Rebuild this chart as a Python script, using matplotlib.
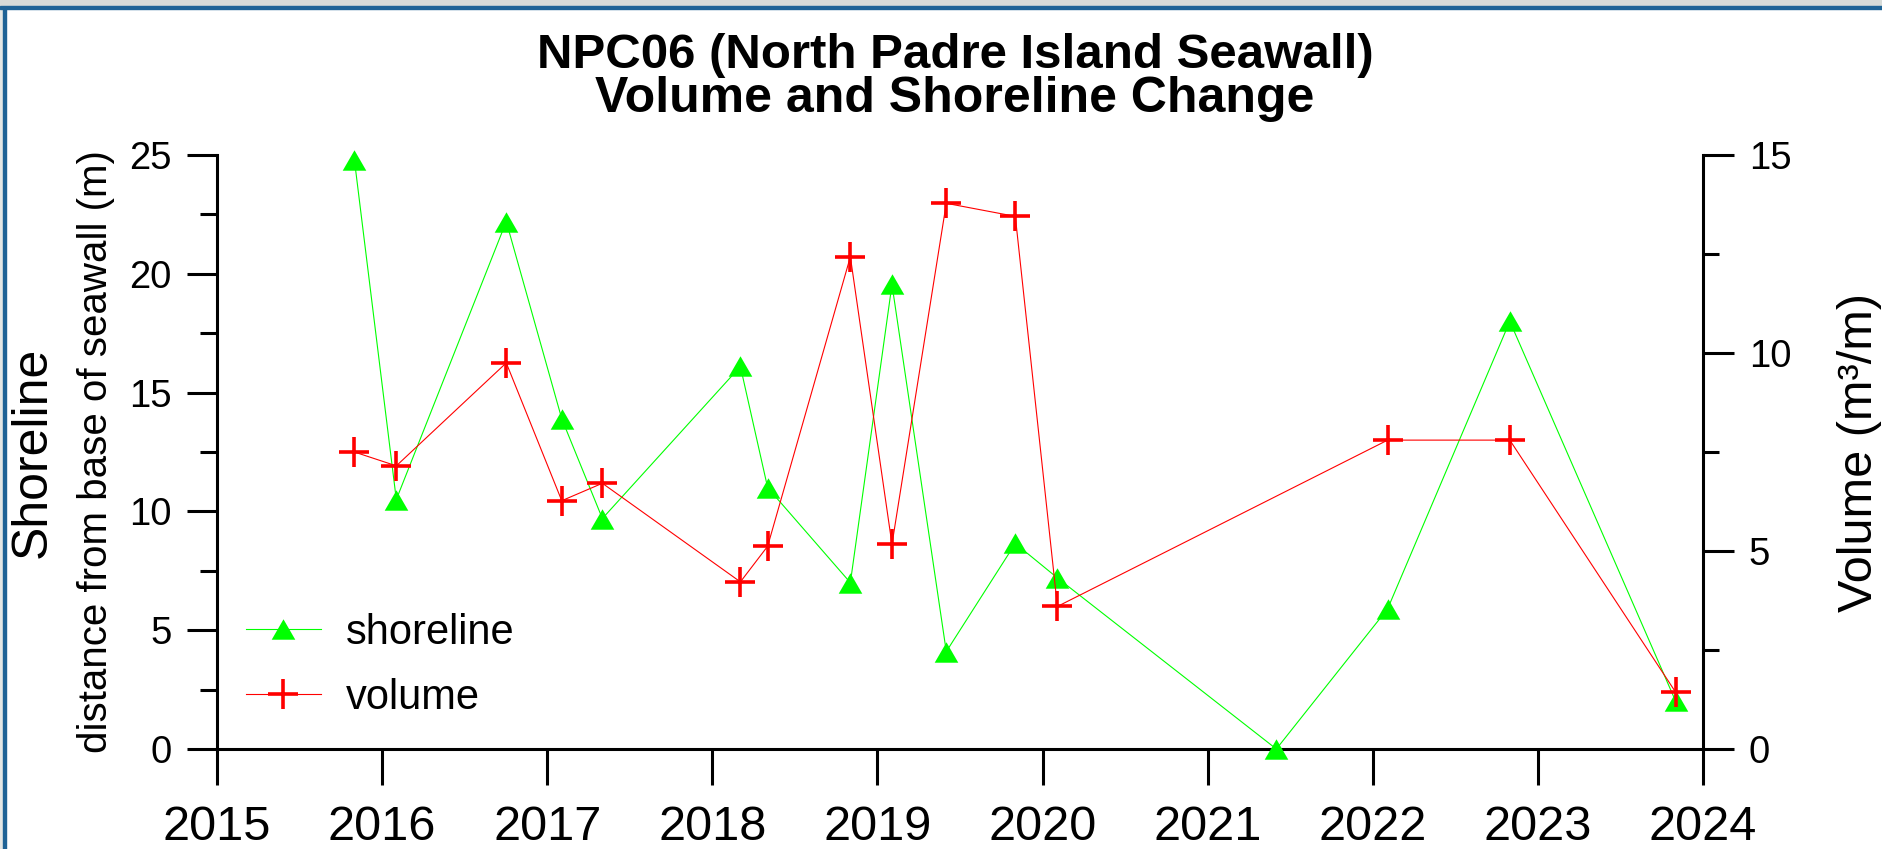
import matplotlib
matplotlib.use("Agg")
import matplotlib.pyplot as plt
from matplotlib.patches import Rectangle
from matplotlib.ticker import MultipleLocator, FixedLocator
from matplotlib.path import Path

plt.rcParams['font.family'] = ['Liberation Sans', 'DejaVu Sans']

# ---- data (decimal years) ----
shore_dates = [2015.832, 2016.086, 2016.752, 2017.088, 2017.334, 2018.170, 2018.335, 2018.836,
               2019.088, 2019.417, 2019.835, 2020.090, 2021.416, 2022.090, 2022.830, 2023.835]
shoreline = [24.8, 10.5, 22.2, 13.9, 9.7, 16.1, 11.0, 7.0,
             19.55, 4.1, 8.65, 7.2, 0.0, 5.9, 18.0, 2.0]
vol_dates = [2015.832, 2016.086, 2016.752, 2017.088, 2017.334, 2018.170, 2018.335, 2018.836,
             2019.088, 2019.417, 2019.835, 2020.090, 2022.090, 2022.830, 2023.835]
volume = [7.5, 7.15, 9.75, 6.27, 6.71, 4.22, 5.12, 12.43,
          5.17, 13.78, 13.45, 3.6, 7.8, 7.8, 1.43]
year_ticks = [2015, 2016, 2017, 2018, 2019, 2020, 2021, 2022, 2023, 2024]
year_labels = [str(y) for y in year_ticks]

W, H = 1883, 849
fig = plt.figure(figsize=(W / 100, H / 100), dpi=100)
fig.patch.set_facecolor('white')

# window-like frame
fig.patches.append(Rectangle((0, 1 - 6 / H), 1, 6 / H, transform=fig.transFigure,
                             color='#d7dbd8', zorder=0))
fig.patches.append(Rectangle((0, 1 - 8.5 / H), 1, 2.5 / H, transform=fig.transFigure,
                             color='#1f6396', zorder=1))
fig.patches.append(Rectangle((0, 0), 3.3 / W, 1 - 6 / H, transform=fig.transFigure,
                             color='#e4e7e5', zorder=0))
fig.patches.append(Rectangle((3.3 / W, 0), 2.7 / W, 1 - 6.5 / H, transform=fig.transFigure,
                             color='#1f6396', zorder=1))

left, right, top, bottom = 217, 1703, 155, 749
ax = fig.add_axes([left / W, 1 - bottom / H, (right - left) / W, (bottom - top) / H])
ax2 = ax.twinx()

tri = Path([(0, 0.866), (-1, -0.866), (1, -0.866), (0, 0.866)],
           [Path.MOVETO, Path.LINETO, Path.LINETO, Path.CLOSEPOLY])

l1, = ax.plot(shore_dates, shoreline, color='#00ff00', lw=0.8, marker=tri, ms=17,
              mfc='#00ff00', mec='none', clip_on=False, zorder=5, label='shoreline')
l2, = ax2.plot(vol_dates, volume, color='#ff0000', lw=0.8, marker='+', ms=22, mew=2.6,
               clip_on=False, zorder=5, label='volume')

ax.set_xlim(2015, 2024)
ax.set_ylim(0, 25)
ax2.set_ylim(0, 15)

spine_w = 2.2
for a in (ax, ax2):
    a.spines['top'].set_visible(False)
    for s in ('left', 'right', 'bottom'):
        a.spines[s].set_linewidth(spine_w)
    a.set_facecolor('none')
ax2.spines['left'].set_visible(False)
ax2.spines['bottom'].set_visible(False)
ax.spines['right'].set_visible(False)

ax.xaxis.set_major_locator(FixedLocator(year_ticks))
ax.set_xticklabels(year_labels)
ax.yaxis.set_major_locator(MultipleLocator(5))
ax.yaxis.set_minor_locator(MultipleLocator(2.5))
ax2.yaxis.set_major_locator(MultipleLocator(5))
ax2.yaxis.set_minor_locator(MultipleLocator(2.5))

ax.tick_params(axis='x', which='major', direction='out', length=26, width=spine_w,
               labelsize=35, pad=14)
ax.tick_params(axis='y', which='major', direction='out', length=21.5, width=spine_w,
               labelsize=27.5, pad=11)
ax.tick_params(axis='y', which='minor', direction='out', length=12, width=spine_w)
ax2.tick_params(axis='y', which='major', direction='out', length=22, width=spine_w,
                labelsize=27.5, pad=11)
ax2.tick_params(axis='y', which='minor', direction='out', length=11.5, width=spine_w)

# titles and labels
fig.text(955 / W, 1 - 55 / H, 'NPC06 (North Padre Island Seawall)', ha='center', va='center',
         fontsize=35.5, fontweight='bold')
fig.text(955 / W, 1 - 99 / H, 'Volume and Shoreline Change', ha='center', va='center',
         fontsize=36, fontweight='bold')
fig.text(33 / W, 1 - 452 / H, 'Shoreline', rotation=90, ha='center', va='center', fontsize=36)
fig.text(96 / W, 1 - 452 / H, 'distance from base of seawall (m)', rotation=90,
         ha='center', va='center', fontsize=29)
fig.text(1860 / W, 1 - 452 / H, 'Volume (m\u00b3/m)', rotation=90, ha='center', va='center',
         fontsize=35)

leg = ax.legend([l1, l2], ['shoreline', 'volume'], loc='center left',
                bbox_to_anchor=(0.0195, 0.141), frameon=False, fontsize=30,
                handlelength=1.8, handletextpad=0.6, labelspacing=0.6,
                borderpad=0, borderaxespad=0)
leg.set_zorder(10)

fig.savefig('out.png', dpi=100, facecolor='white')
